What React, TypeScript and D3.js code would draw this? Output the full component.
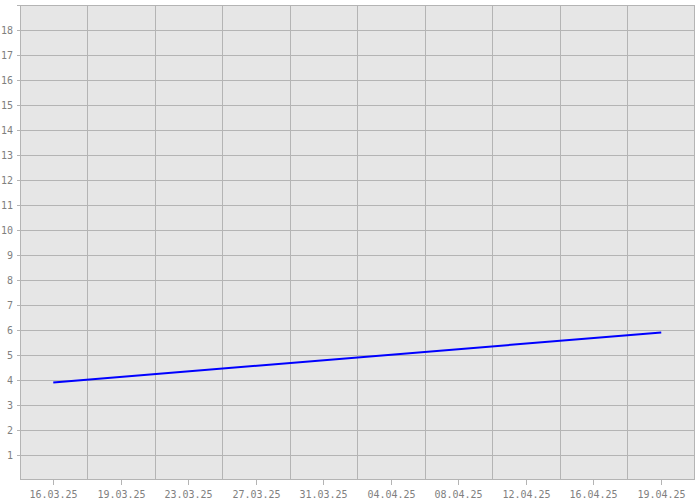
import React from "react";
import * as d3 from "d3";

const tickLabels = ["16.03.25", "19.03.25", "23.03.25", "27.03.25", "31.03.25", "04.04.25", "08.04.25", "12.04.25", "16.04.25", "19.04.25"];
const seriesDates = ["2025-03-16", "2025-04-19"];
const seriesValues = [3.9, 5.9];
const yTicks = d3.range(1, 19);

const W = 700, H = 500;
const M = { left: 20, top: 5, right: 5, bottom: 20 };

export default function App() {
  const x0 = M.left, x1 = W - M.right, y0 = H - M.bottom, y1 = M.top;
  const band = d3.scaleBand<string>().domain(tickLabels).range([x0, x1]).padding(0);
  const parse = d3.timeParse("%Y-%m-%d");
  const dates = seriesDates.map((d) => parse(d)!);
  const half = band.bandwidth() / 2;
  const x = d3.scaleTime().domain([dates[0], dates[dates.length - 1]]).range([x0 + half - 0.5, x1 - half]);
  const y = d3.scaleLinear().domain([0, 19]).range([y0, y1]);
  const data = dates.map((d, i) => ({ d, v: seriesValues[i] }));
  const line = d3.line<{ d: Date; v: number }>().x((p) => x(p.d)).y((p) => y(p.v));
  const grid = "#b4b4b4";
  const txt = "#808080";
  const font = "'DejaVu Sans Mono', monospace";
  return (
    <svg width={W} height={H} style={{ position: "absolute", left: 0, top: 0 }}>
      <rect x={0} y={0} width={W} height={H} fill="#ffffff" />
      <rect x={x0} y={y1} width={x1 - x0} height={y0 - y1} fill="#e6e6e6" />
      {yTicks.map((t) => (
        <line key={"h" + t} x1={x0} x2={x1} y1={Math.round(y(t)) + 0.5} y2={Math.round(y(t)) + 0.5} stroke={grid} />
      ))}
      {tickLabels.slice(1).map((t) => (
        <line key={"v" + t} x1={Math.floor(band(t)!) + 0.5} x2={Math.floor(band(t)!) + 0.5} y1={y1} y2={y0} stroke={grid} />
      ))}
      <rect x={x0 + 0.5} y={y1 + 0.5} width={x1 - x0 - 1} height={y0 - y1 - 1} fill="none" stroke={grid} />
      {[...yTicks, 19].map((t) => (
        <line key={"yt" + t} x1={x0 - 3} x2={x0} y1={Math.round(y(t)) + 0.5} y2={Math.round(y(t)) + 0.5} stroke={grid} />
      ))}
      {yTicks.map((t) => (
        <text key={"yl" + t} x={13} y={y(t) + 3.5} textAnchor="end" fontFamily={font} fontSize={10} fill={txt}>{t}</text>
      ))}
      {tickLabels.map((t) => {
        const cx = Math.floor(band(t)! + half) + 0.5;
        return (
          <g key={"xt" + t}>
            <line x1={cx} x2={cx} y1={y0} y2={y0 + 5} stroke={grid} />
            <text x={cx} y={497.5} textAnchor="middle" fontFamily={font} fontSize={10} fill={txt}>{t}</text>
          </g>
        );
      })}
      <path d={line(data)!} fill="none" stroke="#0000ff" strokeWidth={2} />
    </svg>
  );
}
